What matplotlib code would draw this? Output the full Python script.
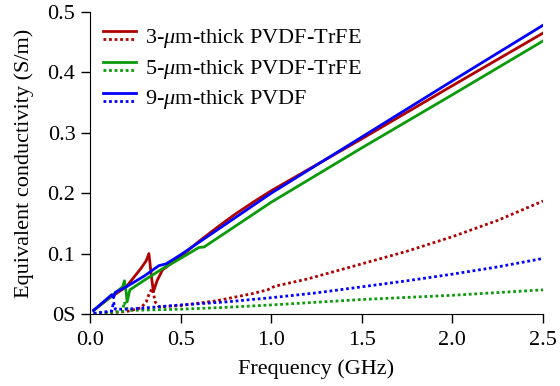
import matplotlib
matplotlib.use("Agg")
import matplotlib.pyplot as plt
from matplotlib.lines import Line2D
from matplotlib.legend_handler import HandlerBase

plt.rcParams['font.family'] = ['Liberation Serif', 'DejaVu Serif']
plt.rcParams['mathtext.fontset'] = 'custom'
plt.rcParams['mathtext.it'] = 'Liberation Serif:italic'

# 3-um PVDF-TrFE solid
f_r = [0.02, 0.1, 0.2, 0.28, 0.31, 0.325, 0.34, 0.35, 0.37, 0.4, 0.5, 0.6, 0.7, 0.8, 0.9, 1.0, 1.5, 2.0, 2.5]
s_r = [0.006, 0.025, 0.045, 0.075, 0.088, 0.1, 0.06, 0.037, 0.055, 0.073, 0.095, 0.12, 0.143, 0.165, 0.185, 0.204, 0.29, 0.378, 0.465]
# 3-um dotted
fd_r = [0.02, 0.1, 0.2, 0.28, 0.31, 0.33, 0.345, 0.36, 0.38, 0.5, 0.7, 0.9, 0.98, 1.02, 1.2, 1.5, 1.75, 2.0, 2.25, 2.5]
d_r = [0.0, 0.002, 0.004, 0.01, 0.02, 0.036, 0.042, 0.02, 0.012, 0.014, 0.022, 0.034, 0.04, 0.046, 0.058, 0.083, 0.104, 0.128, 0.155, 0.187]

# 5-um PVDF-TrFE solid
f_g = [0.02, 0.1, 0.18, 0.19, 0.2, 0.205, 0.22, 0.3, 0.4, 0.5, 0.6, 0.63, 0.7, 1.0, 1.5, 2.0, 2.5]
s_g = [0.006, 0.025, 0.045, 0.055, 0.035, 0.02, 0.04, 0.056, 0.075, 0.092, 0.11, 0.111, 0.125, 0.185, 0.275, 0.363, 0.452]
fd_g = [0.02, 0.18, 0.19, 0.2, 0.22, 0.5, 0.75, 1.0, 1.5, 2.0, 2.5]
d_g = [0.001, 0.004, 0.02, 0.01, 0.006, 0.008, 0.011, 0.015, 0.024, 0.031, 0.04]

# 9-um PVDF solid
f_b = [0.02, 0.12, 0.13, 0.14, 0.2, 0.3, 0.38, 0.42, 0.5, 1.0, 1.5, 2.0, 2.5]
s_b = [0.006, 0.032, 0.027, 0.036, 0.045, 0.063, 0.08, 0.083, 0.098, 0.2, 0.293, 0.386, 0.478]
fd_b = [0.02, 0.12, 0.13, 0.14, 0.2, 0.3, 0.5, 0.75, 1.0, 1.25, 1.5, 1.75, 2.0, 2.25, 2.5]
d_b = [0.001, 0.005, 0.02, 0.008, 0.008, 0.01, 0.015, 0.02, 0.027, 0.035, 0.045, 0.055, 0.066, 0.078, 0.092]

labels = ['3-$\\mathit{\\mu}$m-thick PVDF-TrFE', '5-$\\mathit{\\mu}$m-thick PVDF-TrFE', '9-$\\mathit{\\mu}$m-thick PVDF']
xticks = [0.0, 0.5, 1.0, 1.5, 2.0, 2.5]
yticks = [0.0, 0.1, 0.2, 0.3, 0.4, 0.5]
ytick_labels = ['0S', '0.1', '0.2', '0.3', '0.4', '0.5']

red, green, blue = '#b00000', '#0a9a0a', '#0000ff'
dot = (0, (1, 1))
lw = 2.0
fs = 16

fig = plt.figure(figsize=(5.6, 3.86), dpi=100)
ax = fig.add_axes([0.1607, 0.1865, 0.8089, 0.7825])

ax.plot(fd_r, d_r, color=red, lw=lw, ls=dot)
ax.plot(fd_g, d_g, color=green, lw=lw, ls=dot)
ax.plot(fd_b, d_b, color=blue, lw=lw, ls=dot)
ax.plot(f_r, s_r, color=red, lw=lw)
ax.plot(f_g, s_g, color=green, lw=lw)
ax.plot(f_b, s_b, color=blue, lw=lw)

ax.set_xlim(0, 2.5)
ax.set_ylim(0, 0.5)
ax.set_xticks(xticks)
ax.set_xticklabels([f'{v:.1f}' for v in xticks])
ax.set_yticks(yticks)
ax.set_yticklabels(ytick_labels)
ax.spines['top'].set_visible(False)
ax.spines['right'].set_visible(False)
ax.tick_params(direction='out', length=6.5, width=1, labelsize=fs)
ax.tick_params(axis='x', pad=5.5)
ax.tick_params(axis='y', pad=4)
ax.set_xlabel('Frequency (GHz)', fontsize=fs, labelpad=7)
ax.set_ylabel('Equivalent conductivity (S/m)', fontsize=fs, labelpad=10)


class PairHandler(HandlerBase):
    def create_artists(self, legend, orig_handle, xdescent, ydescent, width, height, fontsize, trans):
        c = orig_handle[0].get_color()
        y1 = height * 0.75 - ydescent
        y2 = height * 0.25 - ydescent
        l1 = Line2D([-xdescent, width - xdescent], [y1, y1], color=c, lw=lw, transform=trans)
        l2 = Line2D([-xdescent, width - xdescent], [y2, y2], color=c, lw=lw, ls=dot, transform=trans)
        return [l1, l2]


handles = []
for c in (red, green, blue):
    h = (Line2D([], [], color=c),)
    handles.append(h)
ax.legend(handles, labels, handler_map={tuple: PairHandler()}, loc='upper left',
          bbox_to_anchor=(0.01, 0.98), frameon=False, fontsize=fs,
          handlelength=1.45, handletextpad=0.4, labelspacing=0.35, borderaxespad=0)

fig.savefig('out.png', dpi=100)
